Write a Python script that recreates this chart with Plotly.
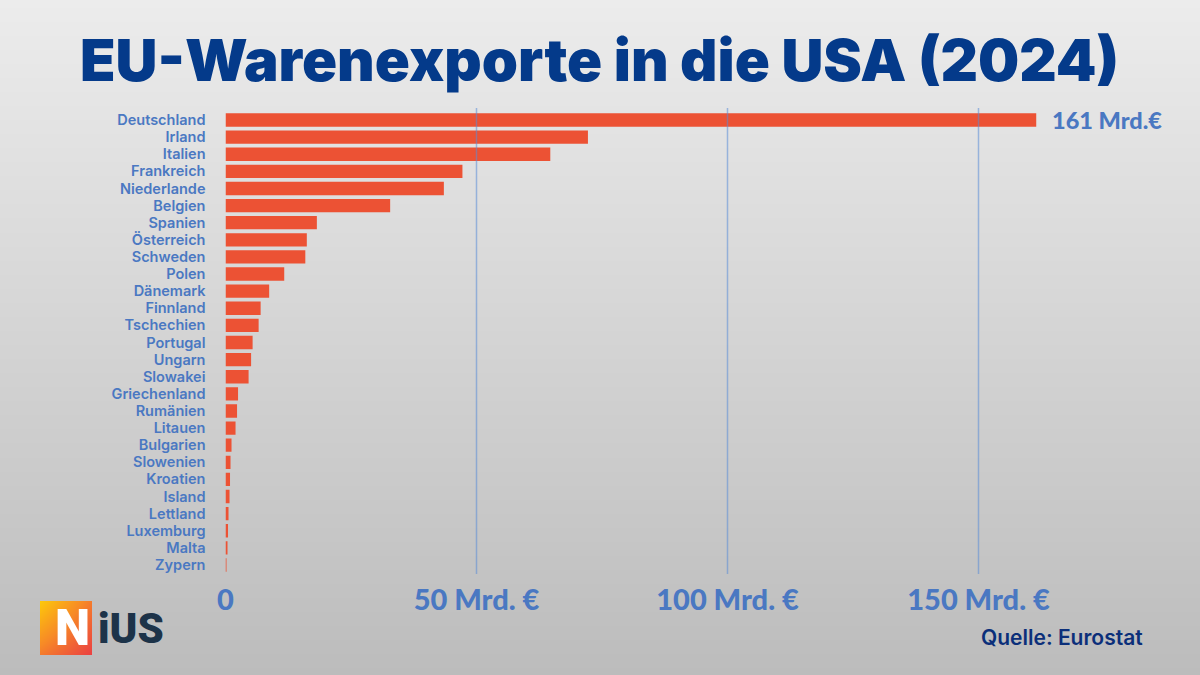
import plotly.graph_objects as go

countries = ["Deutschland","Irland","Italien","Frankreich","Niederlande","Belgien","Spanien","Österreich","Schweden","Polen","Dänemark","Finnland","Tschechien","Portugal","Ungarn","Slowakei","Griechenland","Rumänien","Litauen","Bulgarien","Slowenien","Kroatien","Island","Lettland","Luxemburg","Malta","Zypern"]
exports = [161.5,72.2,64.7,47.2,43.5,32.8,18.2,16.2,15.9,11.7,8.7,7.0,6.6,5.4,5.1,4.6,2.5,2.3,2.0,1.2,1.0,0.9,0.8,0.6,0.5,0.3,0.1]
tick_vals = [0,50,100,150]
tick_text = ["0","50 Mrd. €","100 Mrd. €","150 Mrd. €"]
title = "EU-Warenexporte in die USA (2024)"
top_label = "161 Mrd.€"
source = "Quelle: Eurostat"

W, H = 1200, 675
BLUE = "#4a78c2"
NAVY = "#043a8a"
fig = go.Figure()

# background gradient
fig.add_trace(go.Heatmap(z=[[0,0],[1,1]], x=[0,1], y=[0,1], xaxis="x", yaxis="y", zsmooth="best",
    colorscale=[[0,"#bcbcbc"],[1,"#ececec"]], showscale=False, hoverinfo="skip"))

# bars
fig.add_trace(go.Bar(y=countries, x=exports, orientation="h", xaxis="x2", yaxis="y2",
    marker=dict(color="#ec5234", line_width=0), width=0.78))

# logo square
fig.add_trace(go.Heatmap(z=[[0.55,0.9],[0,0.55]], x=[0,1], y=[0,1], xaxis="x3", yaxis="y3", zsmooth="best",
    colorscale=[[0,"#fdc80a"],[0.5,"#f78a26"],[1,"#ea3f42"]], showscale=False, hoverinfo="skip"))

px0, scale = 225.5, 5.02
top, bot = 108, 574
pitch = 17.115
fig.update_layout(
    width=W, height=H, margin=dict(l=0,r=0,t=0,b=0,autoexpand=False), showlegend=False,
    paper_bgcolor="#d8d8d8", plot_bgcolor="rgba(0,0,0,0)",
    font=dict(family="Inter"),
    xaxis=dict(domain=[0,1], range=[0,1], visible=False, fixedrange=True),
    yaxis=dict(domain=[0,1], range=[0,1], visible=False, fixedrange=True),
    xaxis2=dict(domain=[px0/W,1], range=[0,(W-px0)/scale], anchor="y2", tickmode="array",
        tickvals=tick_vals, ticktext=tick_text, showgrid=False, zeroline=False, showline=False,
        ticks="", tickfont=dict(size=29, color=BLUE, weight=900, family="Lato"), ticklabelstandoff=6),
    yaxis2=dict(domain=[1-bot/H,1-top/H], range=[26+(bot-565)/pitch, -(120-top)/pitch], anchor="x2",
        type="category", categoryorder="array", categoryarray=countries, tickmode="linear", dtick=1,
        showgrid=False, zeroline=False, showline=False, ticks="",
        tickfont=dict(size=14.5, color=BLUE, weight=600), ticklabelstandoff=19),
    xaxis3=dict(domain=[40/W,92/W], range=[0,1], visible=False, fixedrange=True, anchor="y3"),
    yaxis3=dict(domain=[1-655/H,1-601/H], range=[0,1], visible=False, fixedrange=True, anchor="x3"),
    shapes=[dict(type="line", xref="x2", yref="paper", x0=v, x1=v, y0=1-bot/H, y1=1-top/H,
                 line=dict(color="rgba(90,140,215,0.55)", width=1.5), layer="above") for v in tick_vals[1:]],
    annotations=[
        dict(text=title, xref="paper", yref="paper", x=599/W, y=1-60/H, xanchor="center", yanchor="middle",
             showarrow=False, font=dict(family="Inter", size=58, weight=900, color=NAVY)),
        dict(text=top_label, xref="x2", yref="y2", x=exports[0], y=countries[0], xanchor="left", yanchor="middle",
             xshift=14, showarrow=False, font=dict(family="Lato", size=23.5, weight=900, color=BLUE)),
        dict(text=source, xref="paper", yref="paper", x=1145/W, y=1-637/H, xanchor="right", yanchor="middle",
             showarrow=False, font=dict(family="Inter", size=21, weight=600, color="#0b2f7a")),
        dict(text="N", xref="paper", yref="paper", x=72/W, y=1-628/H, xanchor="center", yanchor="middle",
             showarrow=False, font=dict(family="Roboto", size=50, weight=900, color="white")),
        dict(text="iUS", xref="paper", yref="paper", x=96/W, y=1-628/H, xanchor="left", yanchor="middle",
             showarrow=False, font=dict(family="Roboto", size=42, weight=900, color="#1d3349")),
    ],
)
fig.write_html("out.html", post_script="document.body.style.margin='0';", config={"displayModeBar": False})
